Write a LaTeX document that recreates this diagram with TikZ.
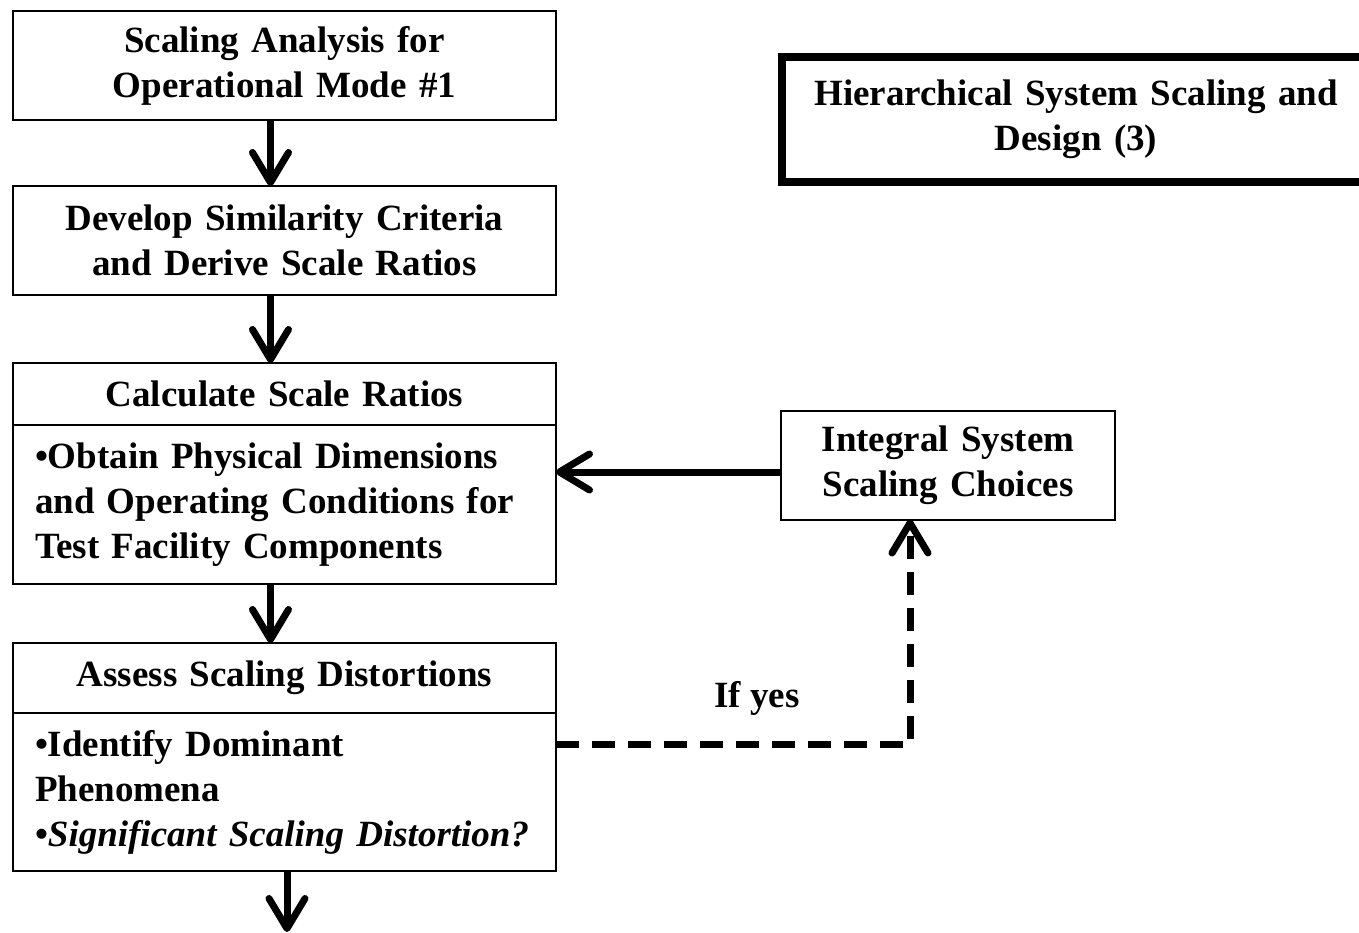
\documentclass[tikz,border=0pt]{standalone}
\usepackage{fontspec}
\setmainfont{Liberation Serif}
\usetikzlibrary{positioning,arrows.meta}
\newcommand{\boxfont}{\fontsize{37pt}{45pt}\selectfont\bfseries}
\tikzset{
box/.style={draw, line width=2pt, minimum width=543pt, text width=500pt,
	align=center, inner sep=0pt, outer sep=0pt, font=\boxfont},
bodybox/.style={box, align=left, text width=499pt, inner xsep=22pt},
flow/.style={line width=7pt, -{Straight Barb[length=30pt, width=36pt, round]}},
dashflow/.style={flow, dash pattern=on 23pt off 13pt}
}

\begin{document}
\begin{tikzpicture}[x=1pt, y=-1pt]
	\useasboundingbox (0,0) rectangle (1359,932);
	% left column
	\node[box, minimum height=109pt] (mode) at (284.5,65.5)
		{Scaling Analysis for\\Operational Mode \#1};
	\node[box, minimum height=109pt, below=66pt of mode] (crit)
		{Develop Similarity Criteria\\and Derive Scale Ratios};
	\node[box, minimum height=62pt, below=68pt of crit] (calc)
		{Calculate Scale Ratios};
	\node[bodybox, minimum height=159pt, below=0pt of calc] (calcbody)
		{\textbullet Obtain Physical Dimensions and Operating Conditions for Test Facility Components};
	\node[box, minimum height=70pt, below=59pt of calcbody] (assess)
		{Assess Scaling Distortions};
	\node[bodybox, minimum height=158pt, below=0pt of assess] (assessbody)
		{\textbullet Identify Dominant\\Phenomena\\\textbullet\textit{Significant Scaling Distortion?}};
	% right column
	\node[box, line width=8pt, minimum width=588pt, text width=570pt, minimum height=125pt] (hier) at (1076,119.5)
		{Hierarchical System Scaling and\\Design (3)};
	\node[box, minimum width=334pt, text width=300pt, minimum height=109pt] (intg) at (948,465)
		{Integral System\\Scaling Choices};
	\node[font=\boxfont] (ifyes) at (757,698) {If yes};
	\coordinate (out) at (287,932);
	% connectors
	\draw[flow] ([xshift=-14pt]mode.south) -- ([xshift=-14pt]crit.north);
	\draw[flow] ([xshift=-14pt]crit.south) -- ([xshift=-14pt]calc.north);
	\draw[flow] ([xshift=-14pt]calcbody.south) -- ([xshift=-14pt]assess.north);
	\draw[flow] (assessbody.south -| out) -- (out);
	\draw[flow] ([yshift=-7pt]intg.west) -- ([yshift=-7pt]intg.west -| calcbody.east);
	\draw[dashflow] ([yshift=47.5pt]assessbody.east) -| ([xshift=-38pt]intg.south);
\end{tikzpicture}
\end{document}
